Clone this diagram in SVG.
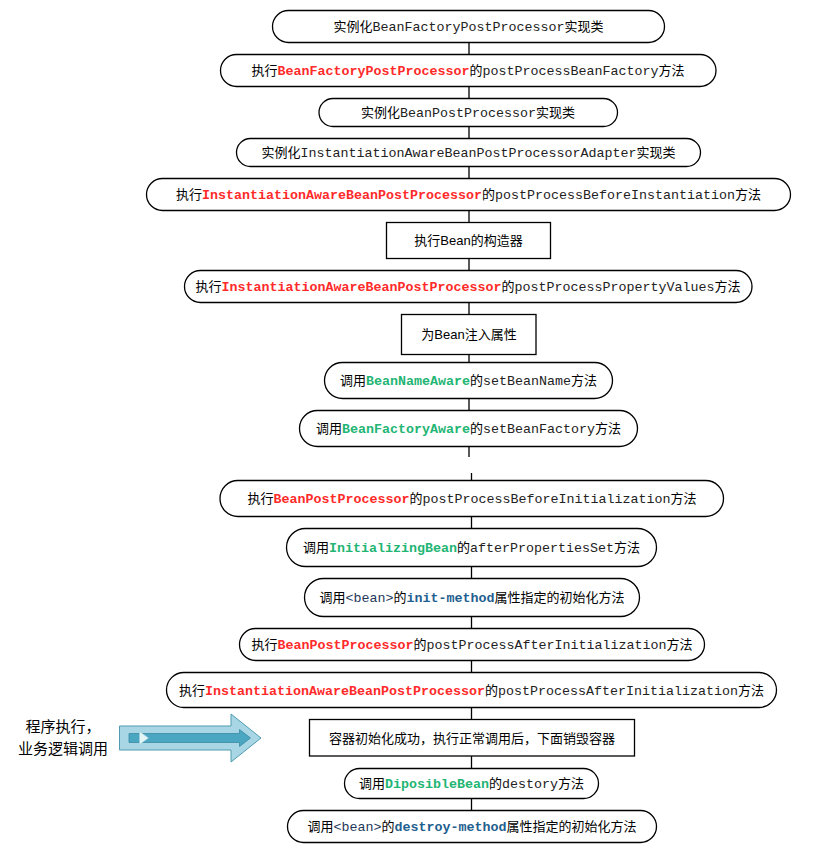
<svg xmlns="http://www.w3.org/2000/svg" width="819" height="850" viewBox="0 0 819 850">
<style>
.bx{fill:#fff;stroke:#000;stroke-width:1.3}
.ln{stroke:#000;stroke-width:1.3;fill:none}
.t{font-family:"Noto Sans CJK SC","Liberation Sans",sans-serif;font-size:13px;fill:#000}
.s{font-family:"Liberation Sans","Noto Sans CJK SC",sans-serif}
.m{font-family:"Liberation Mono","Noto Sans CJK SC",monospace;font-size:13.33px;fill:#222}
.r{fill:#ff2a2a;font-weight:bold}
.g{fill:#22b573;font-weight:bold}
.b{fill:#1f5f8f;font-weight:bold}
.n{fill:#24385a}
.lt{font-family:"Noto Sans CJK SC",sans-serif;font-size:15px;fill:#000}
</style>
<rect width="819" height="850" fill="#fff"/>
<g id="connectors">
<path class="ln" d="M469 42.5V54.5M469 86.5V98.5M469 126.5V138.5M469 166.5V178.5M469 210.5V222.5M469 258.5V270.5M469 302.5V314.5M469 354.5V362.5M469 398.5V410.5M469 446.5V457M471.5 473V480.5M471.5 516.5V528.5M471.5 566.5V578.5M471.5 616.5V628.5M471.5 660.5V672.5M471.5 707.5V719.5M471.5 756V768.5M471.5 798.5V810.5"/>
</g>
<g id="n1"><rect class="bx" x="272.5" y="10.5" width="392" height="32" rx="16"/><text class="t" x="468.5" y="31" text-anchor="middle">实例化<tspan class="m">BeanFactoryPostProcessor</tspan>实现类</text></g>
<g id="n2"><rect class="bx" x="220.5" y="54.5" width="495.5" height="32" rx="16"/><text class="t" x="468" y="75" text-anchor="middle">执行<tspan class="m r">BeanFactoryPostProcessor</tspan>的<tspan class="m">postProcessBeanFactory</tspan>方法</text></g>
<g id="n3"><rect class="bx" x="319" y="98.5" width="298.5" height="28" rx="14"/><text class="t" x="468" y="117" text-anchor="middle">实例化<tspan class="m">BeanPostProcessor</tspan>实现类</text></g>
<g id="n4"><rect class="bx" x="236.5" y="138.5" width="464" height="28" rx="14"/><text class="t" x="468.5" y="157" text-anchor="middle">实例化<tspan class="m">InstantiationAwareBeanPostProcessorAdapter</tspan>实现类</text></g>
<g id="n5"><rect class="bx" x="146.5" y="178.5" width="644" height="32" rx="16"/><text class="t" x="468.5" y="199" text-anchor="middle">执行<tspan class="m r">InstantiationAwareBeanPostProcessor</tspan>的<tspan class="m">postProcessBeforeInstantiation</tspan>方法</text></g>
<g id="n6"><rect class="bx" x="386.5" y="222.5" width="164" height="36"/><text class="t" x="468.5" y="245" text-anchor="middle">执行<tspan class="s">Bean</tspan>的构造器</text></g>
<g id="n7"><rect class="bx" x="184.5" y="270.5" width="567.5" height="32" rx="16"/><text class="t" x="468" y="291" text-anchor="middle">执行<tspan class="m r">InstantiationAwareBeanPostProcessor</tspan>的<tspan class="m">postProcessPropertyValues</tspan>方法</text></g>
<g id="n8"><rect class="bx" x="401.5" y="314.5" width="134.5" height="40"/><text class="t" x="469" y="339" text-anchor="middle">为<tspan class="s">Bean</tspan>注入属性</text></g>
<g id="n9"><rect class="bx" x="324.5" y="362.5" width="288" height="36" rx="18"/><text class="t" x="468.5" y="385" text-anchor="middle">调用<tspan class="m g">BeanNameAware</tspan>的<tspan class="m">setBeanName</tspan>方法</text></g>
<g id="n10"><rect class="bx" x="299.5" y="410.5" width="338" height="36" rx="18"/><text class="t" x="468.5" y="433" text-anchor="middle">调用<tspan class="m g">BeanFactoryAware</tspan>的<tspan class="m">setBeanFactory</tspan>方法</text></g>
<g id="n11"><rect class="bx" x="220" y="480.5" width="503.5" height="36" rx="18"/><text class="t" x="472" y="503" text-anchor="middle">执行<tspan class="m r">BeanPostProcessor</tspan>的<tspan class="m">postProcessBeforeInitialization</tspan>方法</text></g>
<g id="n12"><rect class="bx" x="286.5" y="528.5" width="370" height="38" rx="19"/><text class="t" x="471.5" y="552" text-anchor="middle">调用<tspan class="m g">InitializingBean</tspan>的<tspan class="m">afterPropertiesSet</tspan>方法</text></g>
<g id="n13"><rect class="bx" x="304.5" y="578.5" width="335" height="38" rx="19"/><text class="t" x="472" y="602" text-anchor="middle">调用<tspan class="m n">&lt;bean&gt;</tspan>的<tspan class="m b">init-method</tspan>属性指定的初始化方法</text></g>
<g id="n14"><rect class="bx" x="239.5" y="628.5" width="465" height="32" rx="16"/><text class="t" x="472" y="649" text-anchor="middle">执行<tspan class="m r">BeanPostProcessor</tspan>的<tspan class="m">postProcessAfterInitialization</tspan>方法</text></g>
<g id="n15"><rect class="bx" x="166.5" y="672.5" width="610" height="35" rx="17.5"/><text class="t" x="471.5" y="694.5" text-anchor="middle">执行<tspan class="m r">InstantiationAwareBeanPostProcessor</tspan>的<tspan class="m">postProcessAfterInitialization</tspan>方法</text></g>
<g id="n16"><rect class="bx" x="309.5" y="719.5" width="325" height="36.5"/><text class="t" x="472" y="742.5" text-anchor="middle">容器初始化成功，执行正常调用后，下面销毁容器</text></g>
<g id="n17"><rect class="bx" x="344.5" y="768.5" width="254" height="30" rx="15"/><text class="t" x="471.5" y="788" text-anchor="middle">调用<tspan class="m g">DiposibleBean</tspan>的<tspan class="m">destory</tspan>方法</text></g>
<g id="n18"><rect class="bx" x="287.5" y="810.5" width="369" height="32" rx="16"/><text class="t" x="472" y="831" text-anchor="middle">调用<tspan class="m n">&lt;bean&gt;</tspan>的<tspan class="m b">destroy-method</tspan>属性指定的初始化方法</text></g>
<g id="side-label">
<text class="lt" text-anchor="middle"><tspan x="63" y="732">程序执行，</tspan><tspan x="63" y="753.5">业务逻辑调用</tspan></text>
</g>
<g id="big-arrow">
<polygon points="119.5,726 231,726 231,714 261,738 231,762 231,750 119.5,750" fill="#a8d6e4" stroke="#4f9bb2" stroke-width="1"/>
<polygon points="129,733.5 239.5,733.5 239.5,729.5 250.5,738 239.5,746.5 239.5,742.5 129,742.5" fill="#4aa6c1" stroke="#3a8aa3" stroke-width="0.8"/>
<polygon points="139.5,731.5 148.5,738 139.5,744.5" fill="#e4f5f6" stroke="#9ccfdc" stroke-width="0.6"/>
</g>
</svg>
